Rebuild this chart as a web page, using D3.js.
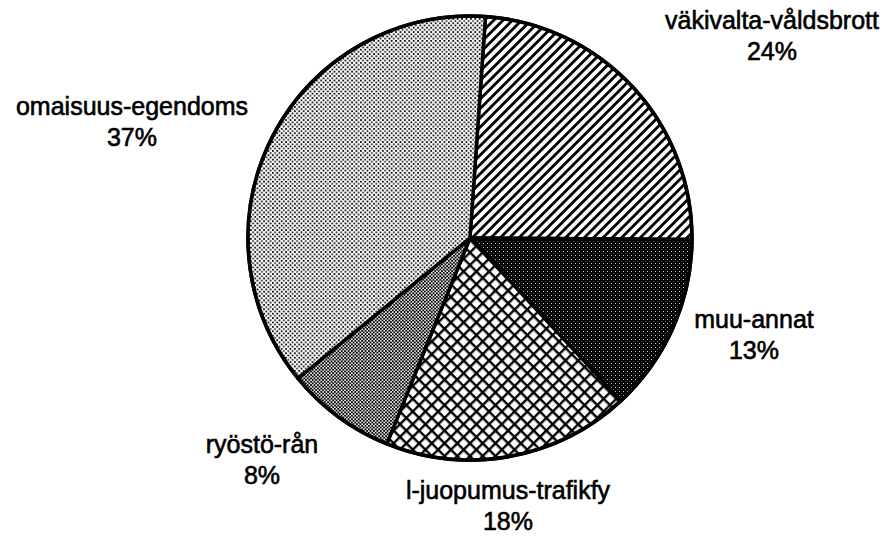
<!DOCTYPE html>
<html>
<head>
  <meta charset="utf-8">
  <title>Rikokset</title>
  <style type="text/css">
    body {
      margin: 0;
      background-color: #fff;
    }
    svg {
      display: block;
      background-color: white;
    }
    text.lbl {
      font-family: "Liberation Sans", Arial, Helvetica, sans-serif;
      font-size: 25px;
      fill: #000;
      stroke: #000;
      stroke-width: 0.6px;
    }
  </style>
  <script src="https://d3js.org/d3.v7.min.js"></script>
</head>
<body>

<script>
// data, clockwise from the top
var categories = ["väkivalta-våldsbrott", "muu-annat", "l-juopumus-trafikfy", "ryöstö-rån", "omaisuus-egendoms"];
var shares = [24, 13, 18, 8, 37];
var shareLabels = ["24%", "13%", "18%", "8%", "37%"];

// label placement (centre x, first baseline)
var labelPos = [[772, 29], [754, 328], [508, 499], [262, 453], [132, 115]];
var patternIds = ["hatch", "dark", "cross", "medium", "light"];

var width = 887, height = 539;
var cx = 470, cy = 238, radius = 222;

var svg = d3.select("body").append("svg")
  .attr("width", width)
  .attr("height", height);

var defs = svg.append("defs");

// diagonal hatch
var p = defs.append("pattern")
  .attr("id", "hatch")
  .attr("patternUnits", "userSpaceOnUse")
  .attr("width", 6.6).attr("height", 6.6)
  .attr("patternTransform", "rotate(45)");
p.append("rect").attr("width", 6.6).attr("height", 6.6).attr("fill", "#fff");
p.append("rect").attr("x", 0).attr("width", 2.8).attr("height", 6.6).attr("fill", "#000");

// dark speckle
p = defs.append("pattern")
  .attr("id", "dark")
  .attr("patternUnits", "userSpaceOnUse")
  .attr("width", 4).attr("height", 4);
p.append("rect").attr("width", 4).attr("height", 4).attr("fill", "#000");
p.append("rect").attr("x", 1).attr("y", 1).attr("width", 0.9).attr("height", 0.9).attr("fill", "#fff");
p.append("rect").attr("x", 3).attr("y", 3).attr("width", 0.7).attr("height", 0.7).attr("fill", "#aaa");

// diamond cross hatch
p = defs.append("pattern")
  .attr("id", "cross")
  .attr("patternUnits", "userSpaceOnUse")
  .attr("width", 9).attr("height", 9)
  .attr("patternTransform", "rotate(45)");
p.append("rect").attr("width", 9).attr("height", 9).attr("fill", "#fff");
p.append("rect").attr("width", 2.4).attr("height", 9).attr("fill", "#000");
p.append("rect").attr("width", 9).attr("height", 2.4).attr("fill", "#000");

// medium dots
p = defs.append("pattern")
  .attr("id", "medium")
  .attr("patternUnits", "userSpaceOnUse")
  .attr("width", 3.4).attr("height", 3.4);
p.append("rect").attr("width", 3.4).attr("height", 3.4).attr("fill", "#fff");
p.append("rect").attr("width", 1.9).attr("height", 1.9).attr("fill", "#000");
p.append("rect").attr("x", 1.7).attr("y", 1.7).attr("width", 1.9).attr("height", 1.9).attr("fill", "#000");

// light stipple
p = defs.append("pattern")
  .attr("id", "light")
  .attr("patternUnits", "userSpaceOnUse")
  .attr("width", 4.4).attr("height", 4.4);
p.append("rect").attr("width", 4.4).attr("height", 4.4).attr("fill", "#fff");
p.append("rect").attr("width", 1.7).attr("height", 1.7).attr("fill", "#000");
p.append("rect").attr("x", 2.2).attr("y", 2.2).attr("width", 1.7).attr("height", 1.7).attr("fill", "#000");

var data = categories.map(function(c, i) {
  return {name: c, value: shares[i], label: shareLabels[i], pos: labelPos[i], fill: patternIds[i]};
});

var pie = d3.pie()
  .sort(null)
  .value(function(d) { return d.value; })
  .startAngle(4 * Math.PI / 180)
  .endAngle(4 * Math.PI / 180 + 2 * Math.PI);

var arc = d3.arc().innerRadius(0).outerRadius(radius);

var chart = svg.append("g")
  .attr("transform", "translate(" + cx + "," + cy + ")");

chart.selectAll("path.slice")
  .data(pie(data))
  .enter().append("path")
  .attr("class", "slice")
  .attr("d", arc)
  .attr("fill", function(d) { return "url(#" + d.data.fill + ")"; })
  .attr("stroke", "#000")
  .attr("stroke-width", 3.5)
  .attr("stroke-linejoin", "round");

// outer rim
chart.append("circle")
  .attr("r", radius)
  .attr("fill", "none")
  .attr("stroke", "#000")
  .attr("stroke-width", 3.5);

var labels = svg.selectAll("text.lbl")
  .data(data)
  .enter().append("text")
  .attr("class", "lbl")
  .attr("text-anchor", "middle")
  .attr("x", function(d) { return d.pos[0]; })
  .attr("y", function(d) { return d.pos[1]; });

labels.append("tspan")
  .attr("x", function(d) { return d.pos[0]; })
  .text(function(d) { return d.name; });

labels.append("tspan")
  .attr("x", function(d) { return d.pos[0]; })
  .attr("dy", 31)
  .text(function(d) { return d.label; });
</script>

</body>
</html>
